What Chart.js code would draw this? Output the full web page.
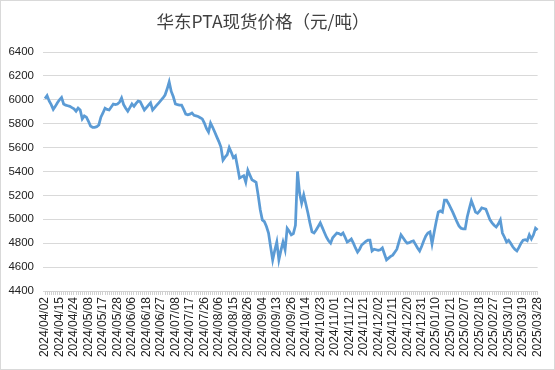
<!DOCTYPE html>
<html>
<head>
<meta charset="utf-8">
<script src="https://cdn.jsdelivr.net/npm/chart.js@4"></script>
<style>
  html, body { margin: 0; padding: 0; background: #fff; }
  #wrap { width: 555px; height: 370px; box-sizing: border-box; border: 1px solid #d9d9d9; position: relative; }
</style>
</head>
<body>
<div id="wrap"><canvas id="chart-pta"></canvas></div>
<script>
const chartTitle = "华东PTA现货价格（元/吨）";

// one label every 7 trading days
const tickLabels = [
  "2024/04/02", "2024/04/15", "2024/04/24", "2024/05/08", "2024/05/17", "2024/05/28",
  "2024/06/06", "2024/06/18", "2024/06/27", "2024/07/08", "2024/07/17", "2024/07/26",
  "2024/08/06", "2024/08/15", "2024/08/26", "2024/09/04", "2024/09/13", "2024/09/26",
  "2024/10/14", "2024/10/23", "2024/11/01", "2024/11/12", "2024/11/21", "2024/12/02",
  "2024/12/11", "2024/12/20", "2024/12/31", "2025/01/10", "2025/01/21", "2025/02/07",
  "2025/02/18", "2025/02/27", "2025/03/10", "2025/03/19", "2025/03/28",
];
const labelStep = 7;

// daily spot price, yuan/ton
const prices = [
  6010, 6035, 5990, 5960, 5920, 5945, 5975, 6000, 6020, 5965,
  5955, 5950, 5945, 5935, 5925, 5905, 5930, 5915, 5840, 5865,
  5855, 5820, 5780, 5770, 5770, 5775, 5790, 5855, 5890, 5930,
  5920, 5915, 5940, 5965, 5960, 5965, 5980, 6015, 5960, 5930,
  5905, 5935, 5965, 5945, 5970, 5990, 5985, 5950, 5915, 5935,
  5955, 5975, 5915, 5935, 5955, 5975, 5995, 6015, 6040, 6090,
  6150, 6070, 6025, 5965, 5960, 5955, 5955, 5920, 5880, 5875,
  5880, 5890, 5870, 5865, 5860, 5850, 5840, 5805, 5760, 5730,
  5805, 5770, 5730, 5690, 5650, 5605, 5495, 5520, 5540, 5600,
  5560, 5515, 5530, 5440, 5345, 5355, 5365, 5310, 5410, 5370,
  5330, 5320, 5310, 5200, 5080, 4995, 4980, 4940, 4885, 4770,
  4660, 4740, 4810, 4660, 4740, 4810, 4745, 4925, 4900, 4870,
  4880, 4950, 5400, 5220, 5135, 5205, 5130, 5055, 4970, 4895,
  4885, 4910, 4940, 4970, 4930, 4890, 4850, 4820, 4800, 4845,
  4865, 4885, 4880, 4870, 4885, 4850, 4810, 4820, 4835, 4800,
  4760, 4725, 4750, 4785, 4800, 4815, 4825, 4825, 4735, 4750,
  4745, 4740, 4745, 4760, 4710, 4660, 4675, 4690, 4700, 4725,
  4750, 4810, 4870, 4845, 4820, 4800, 4805, 4815, 4820, 4790,
  4760, 4735, 4775, 4820, 4860, 4885, 4895, 4795, 4890, 4980,
  5060, 5070, 5060, 5160, 5160, 5130, 5095, 5060, 5020, 4980,
  4945, 4925, 4920, 4920, 5020, 5090, 5155, 5110, 5060, 5050,
  5070, 5095, 5090, 5085, 5040, 4995, 4970, 4950, 4935, 4960,
  4995, 4885, 4850, 4810, 4825, 4800, 4770, 4750, 4735, 4765,
  4800, 4825, 4830, 4820, 4870, 4835, 4870, 4925, 4910,
];

const categories = prices.map((_, i) => i);

// title drawn left of centre, like the original
const titlePlugin = {
  id: "ptaTitle",
  afterDraw(chart) {
    const ctx = chart.ctx;
    ctx.save();
    ctx.font = '17.5px "Noto Sans CJK SC"';
    ctx.fillStyle = "#404040";
    ctx.textAlign = "center";
    ctx.textBaseline = "middle";
    ctx.fillText(chartTitle, 262, 20);
    ctx.restore();
  },
};

new Chart(document.getElementById("chart-pta"), {
  type: "line",
  data: {
    labels: categories,
    datasets: [
      {
        label: chartTitle,
        data: prices,
        borderColor: "#5B9BD5",
        backgroundColor: "#5B9BD5",
        borderWidth: 2.75,
        pointRadius: 0,
        tension: 0,
      },
    ],
  },
  options: {
    responsive: true,
    maintainAspectRatio: false,
    animation: false,
    layout: {
      padding: { top: 51, right: 14, left: 0, bottom: 0 },
    },
    plugins: {
      legend: { display: false },
      tooltip: { enabled: false },
    },
    scales: {
      x: {
        offset: false,
        grid: {
          drawOnChartArea: false,
          tickLength: 4,
          color: "#d0d0d0",
        },
        border: { color: "#d0d0d0" },
        ticks: {
          autoSkip: false,
          maxRotation: 90,
          minRotation: 90,
          padding: 2,
          color: "#222",
          font: { family: "Liberation Sans", size: 12 },
          callback: (value, i) => (i % labelStep === 0 ? tickLabels[i / labelStep] : ""),
        },
        afterFit: (scale) => { scale.height = 78; },
      },
      y: {
        min: 4400,
        max: 6400,
        grid: { color: "#d9d9d9", tickLength: 2 },
        border: { display: false },
        ticks: {
          stepSize: 200,
          padding: 9,
          color: "#222",
          font: { family: "Liberation Sans", size: 11.5 },
          callback: (value) => String(value),
        },
        afterFit: (scale) => { scale.width = 44; },
      },
    },
  },
  plugins: [titlePlugin],
});
</script>
</body>
</html>
